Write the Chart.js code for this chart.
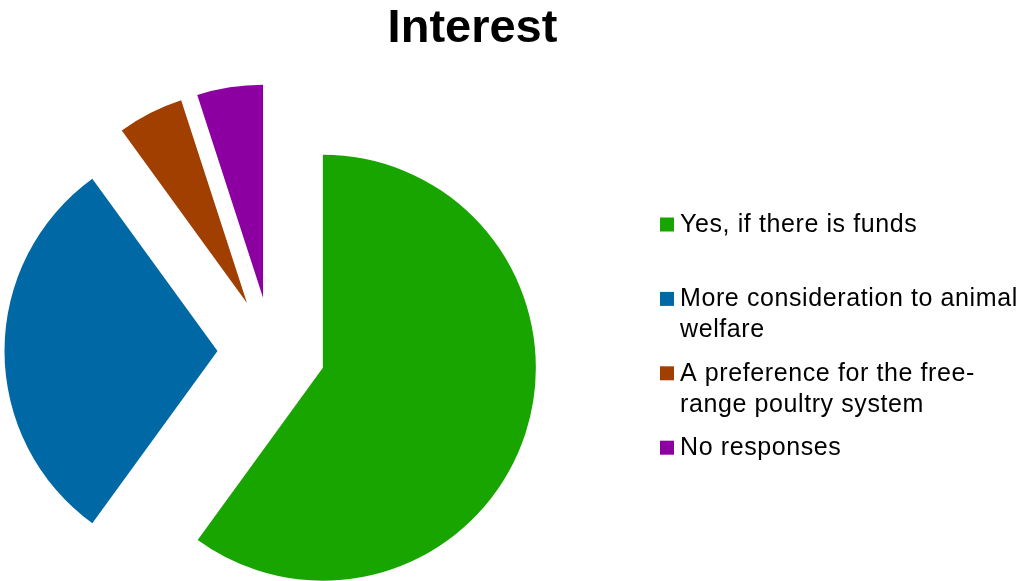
<!DOCTYPE html>
<html>
<head>
<meta charset="utf-8">
<title>Interest</title>
<script src="https://cdn.jsdelivr.net/npm/chart.js@4.4.0/dist/chart.umd.min.js"></script>
<style>
    html, body { margin: 0; padding: 0; background: #fff; }
    #contenedor { width: 1022px; height: 581px; position: relative; }
</style>
</head>
<body>
<div id="contenedor">
    <canvas id="myChart"></canvas>
</div>
<script>
const titulo = 'Interest';
const categorias = [
    'Yes, if there is funds',
    'More consideration to animal welfare',
    'A preference for the free-range poultry system',
    'No responses'
];
// como se parte cada etiqueta en la leyenda
const lineasLeyenda = [
    ['Yes, if there is funds'],
    ['More consideration to animal', 'welfare'],
    ['A preference for the free-', 'range poultry system'],
    ['No responses']
];
const valores = [60, 30, 5, 5];
const colores = ['#19a500', '#0068a5', '#a13f00', '#8c00a2'];

const radioPie = 213;
const separacion = 54; // px que se separa cada trozo

// chart.js agranda el radio de los trozos separados (offset/4 * fix) y
// les recorta un poco el angulo; lo deshacemos para que queden como en excel
const ajusteRadio = {
    id: 'ajusteRadio',
    afterDatasetsUpdate(chart) {
        const meta = chart.getDatasetMeta(0);
        const base = meta.controller.outerRadius;
        meta.data.forEach(arco => {
            const fix = 1 - Math.sin(Math.min(Math.PI, arco.circumference));
            const extra = (arco.options.offset || 0) / 4 * fix;
            const recorte = extra / (2 * Math.PI * base);
            arco.outerRadius = base - extra;
            arco.startAngle -= recorte;
            arco.endAngle += recorte;
        });
    }
};

// titulo y leyenda a mano, para ponerlos donde van
const textosPlugin = {
    id: 'textosPlugin',
    afterDraw(chart) {
        const ctx = chart.ctx;
        ctx.save();
        ctx.fillStyle = '#000';
        ctx.textAlign = 'center';
        ctx.textBaseline = 'alphabetic';
        ctx.font = 'bold 47px "Liberation Sans", Arial, sans-serif';
        ctx.fillText(titulo, 472.5, 42);

        ctx.textAlign = 'left';
        ctx.font = '25px "Liberation Sans", Arial, sans-serif';
        ctx.letterSpacing = '0.6px';
        for (let i = 0; i < lineasLeyenda.length; i++) {
            const y0 = 232 + i * 74.4;
            ctx.fillStyle = colores[i];
            ctx.fillRect(660, y0 - 14.5, 14, 14);
            ctx.fillStyle = '#000';
            lineasLeyenda[i].forEach((linea, j) => {
                ctx.fillText(linea, 680, y0 + j * 30.7);
            });
        }
        ctx.restore();
    }
};

const ctx = document.getElementById('myChart').getContext('2d');
const myChart = new Chart(ctx, {
    type: 'pie',
    data: {
        labels: categorias,
        datasets: [{
            data: valores,
            backgroundColor: colores,
            borderWidth: 0,
            offset: separacion * 4, // chart.js mueve offset/4
            clip: false
        }]
    },
    options: {
        responsive: true,
        maintainAspectRatio: false,
        animation: false,
        events: [],
        radius: radioPie,
        layout: {
            padding: { left: 0, right: 479, top: 121, bottom: 0 }
        },
        plugins: {
            legend: { display: false },
            title: { display: false },
            tooltip: { enabled: false }
        }
    },
    plugins: [ajusteRadio, textosPlugin]
});
</script>
</body>
</html>
